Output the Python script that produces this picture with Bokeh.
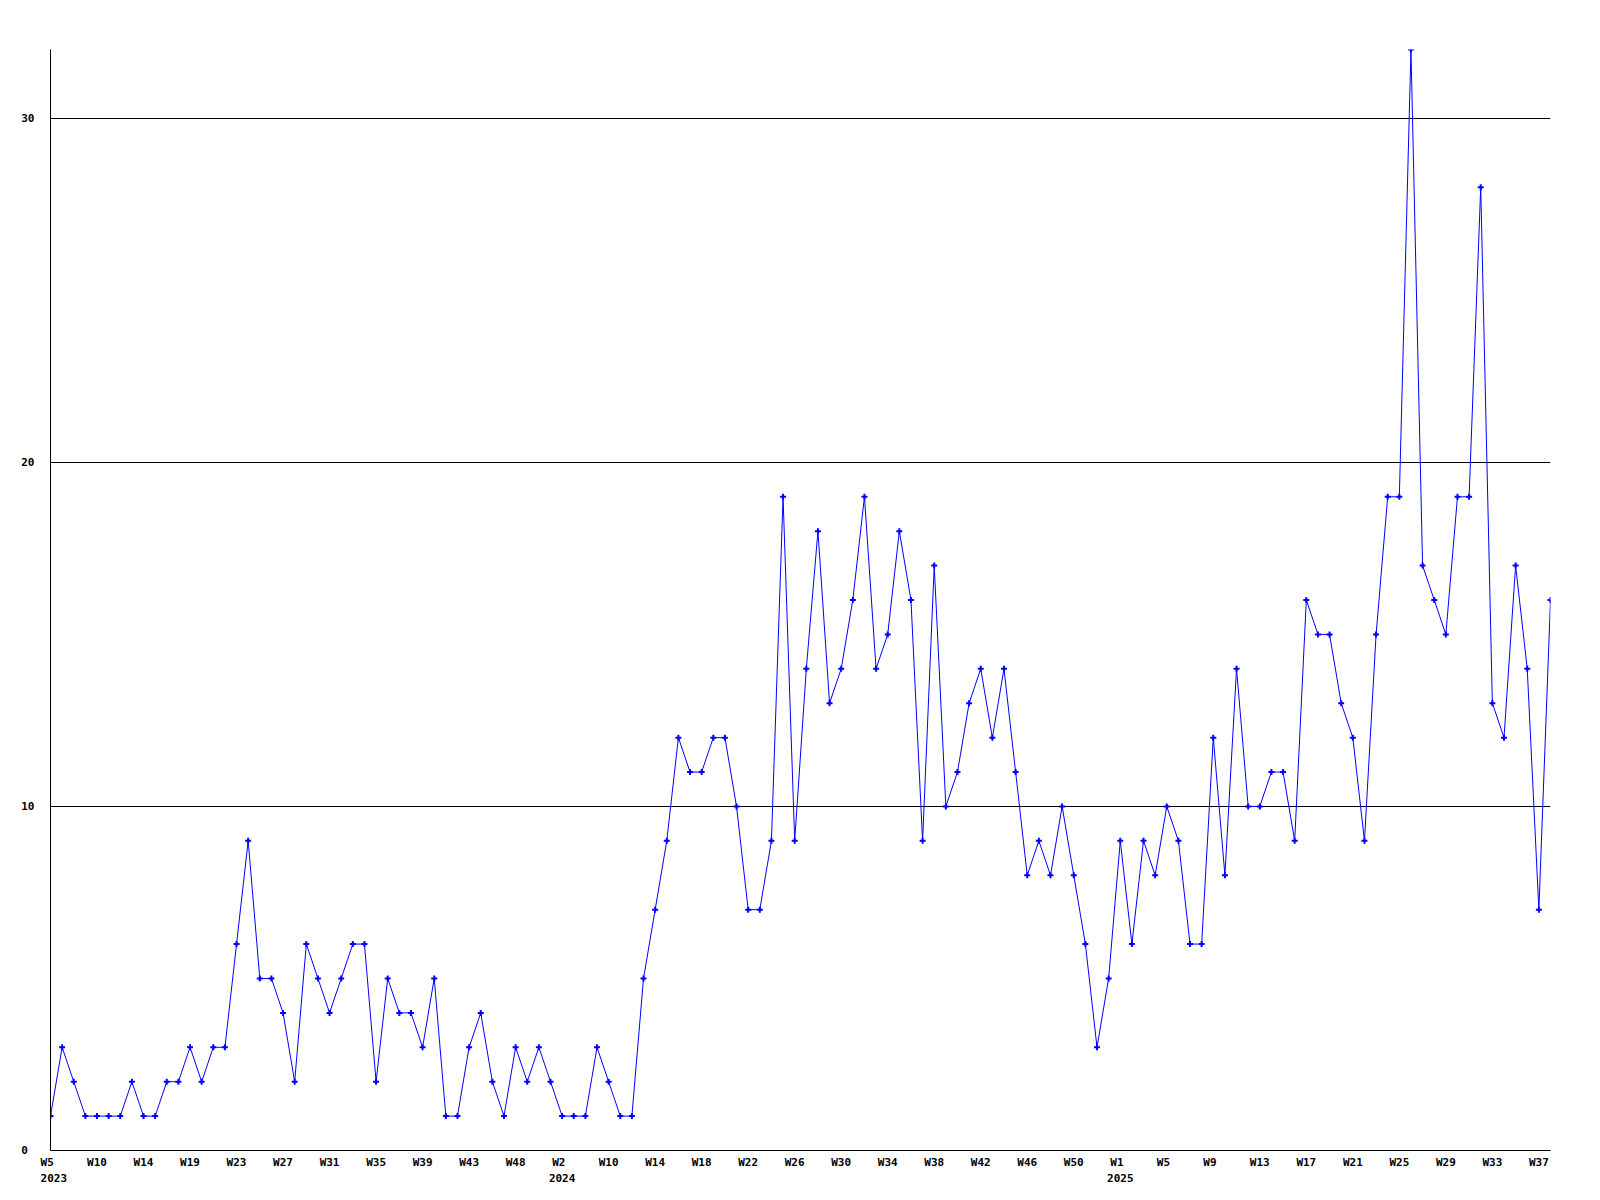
from bokeh.plotting import figure
from bokeh.models import Range1d, FixedTicker
from bokeh.embed import file_html
from bokeh.resources import INLINE

# weekly counts (one value per plotted week)
counts = [
    1, 3, 2, 1, 1, 1, 1, 2, 1, 1, 2, 2, 3, 2, 3, 3, 6, 9, 5, 5, 4, 2,
    6, 5, 4, 5, 6, 6, 2, 5, 4, 4, 3, 5, 1, 1, 3, 4, 2, 1, 3, 2, 3, 2,
    1, 1, 1, 3, 2, 1, 1, 5, 7, 9, 12, 11, 11,
    12, 12, 10, 7, 7, 9, 19, 9, 14, 18, 13, 14, 16, 19, 14, 15, 18, 16,
    9, 17, 10, 11, 13, 14, 12, 14, 11, 8, 9, 8, 10, 8,
    6, 3, 5, 9, 6, 9, 8, 10, 9, 6, 6, 12, 8, 14, 10, 10, 11, 11, 9, 16,
    15, 15, 13, 12, 9, 15, 19, 19, 32, 17, 16, 15, 19, 19, 28, 13, 12,
    17, 14, 7, 16,
]
x = list(range(len(counts)))

# x tick labels, one every 4th point (year shown under the first week of a year)
week_labels = [
    "W5", "W10", "W14", "W19", "W23", "W27", "W31", "W35", "W39", "W43", "W48",
    "W2", "W10", "W14", "W18", "W22", "W26", "W30", "W34", "W38", "W42", "W46", "W50",
    "W1", "W5", "W9", "W13", "W17", "W21", "W25", "W29", "W33", "W37",
]
year_labels = {0: "2023", 11: "2024", 23: "2025"}
tick_positions = [4 * k for k in range(len(week_labels))]

NB = "\u00a0"


def make_label(k):
    # monospace labels; short week labels padded so they start at a common offset
    w = week_labels[k].ljust(3, NB)
    if k in year_labels:
        y = year_labels[k]
        if k == 0:
            y = NB + y
        return w + "\n" + y
    return w


tick_text = {t: make_label(k) for k, t in enumerate(tick_positions)}

y_ticks = [0, 10, 20, 30]
y_labels = ["0" + NB, "10", "20", "30"]

p = figure(
    width=1592, height=1192,
    output_backend="svg", toolbar_location=None,
    x_range=Range1d(0, len(counts) - 1), y_range=Range1d(0, 32),
    min_border_left=50, min_border_right=42,
    min_border_top=49, min_border_bottom=42,
)
p.outline_line_color = None
p.background_fill_color = "white"
p.border_fill_color = "white"

p.xgrid.visible = False
p.ygrid.ticker = FixedTicker(ticks=y_ticks)
p.ygrid.grid_line_color = "black"
p.ygrid.grid_line_width = 1

p.xaxis.ticker = FixedTicker(ticks=tick_positions)
p.xaxis.major_label_overrides = tick_text
p.yaxis.ticker = FixedTicker(ticks=y_ticks)
p.yaxis.major_label_overrides = {t: l for t, l in zip(y_ticks, y_labels)}

for ax in (p.xaxis, p.yaxis):
    ax.axis_line_color = "black"
    ax.axis_line_width = 1
    ax.major_tick_line_color = None
    ax.minor_tick_line_color = None
    ax.major_tick_out = 0
    ax.major_tick_in = 0
    ax.major_label_text_font = "DejaVu Sans Mono"
    ax.major_label_text_font_style = "bold"
    ax.major_label_text_font_size = "11px"
    ax.major_label_text_color = "black"

p.xaxis.major_label_standoff = 5
p.xaxis.major_label_text_line_height = 1.3
p.yaxis.major_label_standoff = 16

p.line(x, counts, line_color="#0000ff", line_width=1)
p.scatter(x, counts, marker="cross", size=6, line_width=2,
          line_color="#0000ff")

open("out.html", "w").write(file_html(p, INLINE))
